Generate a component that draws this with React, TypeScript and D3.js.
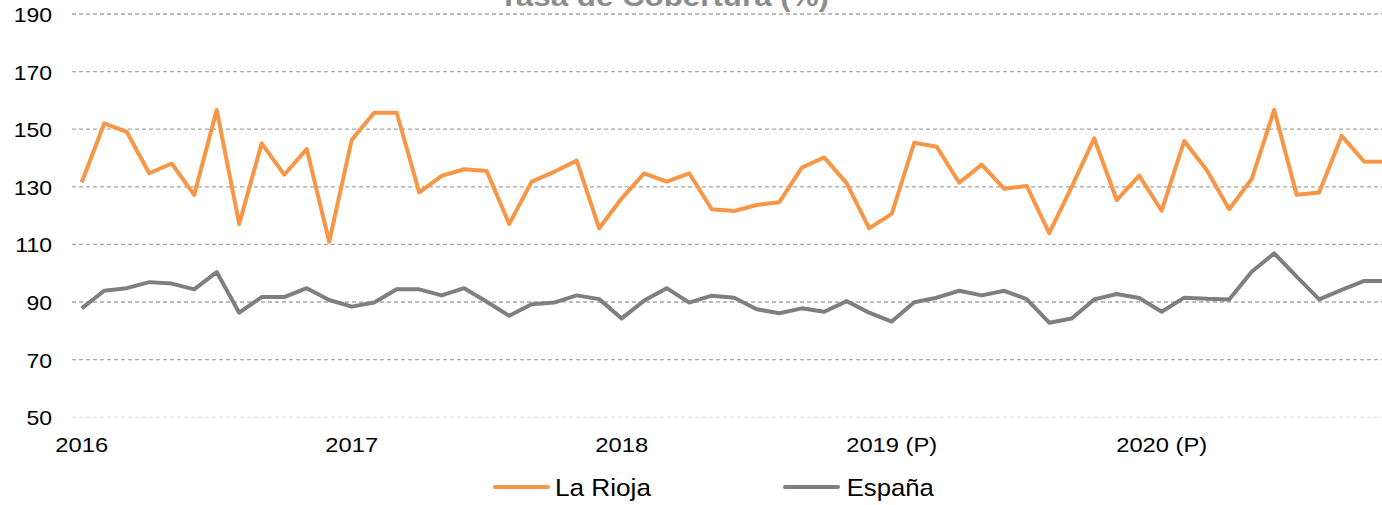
import React from 'react';
import * as d3 from 'd3';

// monthly values, Jan 2016 onwards
const laRioja = [
  131.5, 152, 149.1, 134.7, 138.1, 127.2, 156.7, 117.1, 145.1, 134.2, 143.1, 110.9,
  146.3, 155.7, 155.7, 128.1, 133.8, 136.1, 135.5, 117.1, 131.8, 135.2, 139.1, 115.6,
  126.0, 134.7, 131.8, 134.7, 122.2, 121.6, 123.7, 124.6, 136.6, 140.2, 131.2, 115.6,
  120.6, 145.3, 143.9, 131.4, 137.7, 129.3, 130.3, 113.9, 130.0, 146.8, 125.4, 133.9,
  121.7, 145.9, 135.8, 122.2, 132.7, 156.7, 127.2, 128.0, 147.7, 138.7, 138.7,
];
const espana = [
  87.8, 93.9, 94.8, 96.9, 96.4, 94.4, 100.4, 86.3, 91.7, 91.7, 94.8, 90.7,
  88.4, 89.8, 94.4, 94.4, 92.3, 94.8, 90.1, 85.2, 89.2, 89.8, 92.3, 91.0,
  84.3, 90.5, 94.8, 89.8, 92.2, 91.5, 87.5, 86.1, 87.8, 86.6, 90.3, 86.3,
  83.2, 89.9, 91.5, 93.9, 92.3, 93.9, 91.0, 82.8, 84.3, 90.9, 92.8, 91.4,
  86.6, 91.5, 91.1, 90.9, 100.5, 106.9, 98.8, 90.9, 94.2, 97.3, 97.3,
];
const yearLabels = ['2016', '2017', '2018', '2019 (P)', '2020 (P)'];
const yearStart = [0, 12, 24, 36, 48];
const yTicks = [50, 70, 90, 110, 130, 150, 170, 190];

const W = 1382;
const H = 505;
const ORANGE = '#F79646';
const GREY = '#7F7F7F';
const FONT = '"Liberation Sans", Arial, sans-serif';

export default function App() {
  const x = d3.scaleLinear().domain([0, laRioja.length - 1]).range([81.7, 81.7 + 22.5 * (laRioja.length - 1)]);
  const y = d3.scaleLinear().domain([50, 190]).range([417.2, 14]);

  const line = d3.line<number>()
    .x((_, i) => x(i))
    .y(d => y(d));

  return (
    <svg width={W} height={H} style={{ position: 'absolute', left: 0, top: 0, overflow: 'hidden', background: '#fff' }}>
      <text
        transform={`translate(664,6) scale(1.16,1)`}
        textAnchor="middle"
        fontFamily={FONT}
        fontWeight="bold"
        fontSize={27}
        fill="#8c8c8c"
      >
        Tasa de Cobertura (%)
      </text>

      {yTicks.map(t => (
        <g key={t}>
          <line
            x1={72}
            x2={W}
            y1={y(t)}
            y2={y(t)}
            stroke={t === 50 ? '#e3e3e3' : '#a6a6a6'}
            strokeWidth={1.3}
            strokeDasharray="4,3"
          />
          <text
            transform={`translate(52,${y(t) + 8}) scale(1.15,1)`}
            textAnchor="end"
            fontFamily={FONT}
            fontSize={20}
            fill="#000"
          >
            {t}
          </text>
        </g>
      ))}

      {yearLabels.map((lab, k) => (
        <text
          key={lab}
          transform={`translate(${x(yearStart[k])},452) scale(1.13,1)`}
          textAnchor="middle"
          fontFamily={FONT}
          fontSize={21}
          fill="#000"
        >
          {lab}
        </text>
      ))}

      <path d={line(espana) ?? ''} fill="none" stroke={GREY} strokeWidth={4} strokeLinejoin="round" />
      <path d={line(laRioja) ?? ''} fill="none" stroke={ORANGE} strokeWidth={4} strokeLinejoin="round" />

      {/* legend */}
      <line x1={495} x2={548} y1={487} y2={487} stroke={ORANGE} strokeWidth={4} strokeLinecap="round" />
      <text transform="translate(555,496) scale(1.09,1)" fontFamily={FONT} fontSize={24} fill="#000">La Rioja</text>
      <line x1={785} x2={838} y1={487} y2={487} stroke={GREY} strokeWidth={4} strokeLinecap="round" />
      <text transform="translate(846.7,496) scale(1.07,1)" fontFamily={FONT} fontSize={24} fill="#000">España</text>
    </svg>
  );
}
